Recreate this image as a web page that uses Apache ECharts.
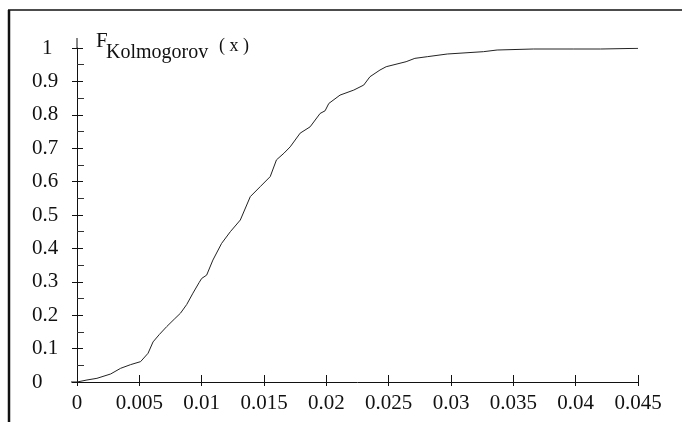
<!DOCTYPE html>
<html><head><meta charset="utf-8">
<script src="https://cdn.jsdelivr.net/npm/echarts@6/dist/echarts.min.js"></script>
<style>html,body{margin:0;padding:0;background:#fff}#c{width:682px;height:422px}</style>
</head><body><div id="c"></div>
<script>
const xValues = [0, 0.0008, 0.0016, 0.0027, 0.0035, 0.0043, 0.0051, 0.0057, 0.0061, 0.0066, 0.0072, 0.0078, 0.0083, 0.0088, 0.0093, 0.0098, 0.0100, 0.0104, 0.0109, 0.0116, 0.0123, 0.0131, 0.0139, 0.0147, 0.0155, 0.0160, 0.0166, 0.0171, 0.0179, 0.0187, 0.0195, 0.0199, 0.0202, 0.0211, 0.0222, 0.0230, 0.0235, 0.0243, 0.0248, 0.0264, 0.0271, 0.0281, 0.0297, 0.0326, 0.0337, 0.0366, 0.0398, 0.0420, 0.0450];
const fValues = [0, 0.006, 0.011, 0.024, 0.041, 0.052, 0.061, 0.086, 0.12, 0.142, 0.166, 0.188, 0.206, 0.232, 0.266, 0.298, 0.31, 0.32, 0.365, 0.415, 0.45, 0.485, 0.555, 0.585, 0.615, 0.665, 0.685, 0.704, 0.745, 0.764, 0.804, 0.812, 0.834, 0.859, 0.874, 0.889, 0.914, 0.934, 0.944, 0.959, 0.969, 0.974, 0.982, 0.989, 0.994, 0.997, 0.997, 0.997, 0.999];
const xTicks = [0, 0.005, 0.01, 0.015, 0.02, 0.025, 0.03, 0.035, 0.04, 0.045];
const yTicks = [0, 0.1, 0.2, 0.3, 0.4, 0.5, 0.6, 0.7, 0.8, 0.9, 1];
const titleMain = 'F', titleSub = 'Kolmogorov', titleArg = '( x )';

const FONT = '"Liberation Serif","Times New Roman",serif';
const chart = echarts.init(document.getElementById('c'), null, {renderer: 'canvas'});
const lbl = {fontFamily: FONT, fontSize: 21, color: '#111'};
const fmt = v => String(+v.toFixed(3));
chart.setOption({
  animation: false,
  backgroundColor: '#fff',
  grid: {left: 77, right: 44, top: 48, bottom: 40},
  xAxis: [{
    type: 'value', min: xTicks[0], max: xTicks[xTicks.length-1], interval: 0.005,
    axisLine: {lineStyle: {color: '#111', width: 1}},
    axisTick: {show: true, inside: true, length: 7, lineStyle: {color: '#111'}},
    axisLabel: Object.assign({margin: 11, formatter: fmt}, lbl),
    splitLine: {show: false}
  }, {
    type: 'value', position: 'bottom', min: xTicks[0], max: xTicks[xTicks.length-1], interval: 0.005,
    axisLine: {show: false},
    axisTick: {show: true, inside: false, length: 4, lineStyle: {color: '#111'}},
    axisLabel: {show: false}, splitLine: {show: false}
  }],
  yAxis: [{
    type: 'value', min: yTicks[0], max: yTicks[yTicks.length-1], interval: 0.1,
    axisLine: {show: true, lineStyle: {color: '#111', width: 1}},
    axisTick: {show: true, inside: false, length: 5, lineStyle: {color: '#111'}},
    axisLabel: Object.assign({margin: 45, align: 'left',
      formatter: v => v === 1 ? '{one|1}' : fmt(v),
      rich: {one: {fontFamily: FONT, fontSize: 21, color: '#111', padding: [0, 0, 0, 10]}}}, lbl),
    splitLine: {show: false}
  }, {
    type: 'value', position: 'left', min: yTicks[0], max: yTicks[yTicks.length-1], interval: 0.1,
    axisLine: {show: false},
    axisTick: {show: true, inside: true, length: 6, lineStyle: {color: '#111'}},
    minorTick: {show: true, splitNumber: 2, length: 7, lineStyle: {color: '#333'}},
    axisLabel: {show: false}, splitLine: {show: false}
  }],
  series: [{
    type: 'line', xAxisIndex: 0, yAxisIndex: 0,
    data: xValues.map((x, i) => [x, fValues[i]]),
    showSymbol: false, smooth: false,
    lineStyle: {color: '#222', width: 1}
  }]
});
const o = chart.convertToPixel({xAxisIndex: 0, yAxisIndex: 0}, [0, 0]);
const top1 = chart.convertToPixel({xAxisIndex: 0, yAxisIndex: 0}, [0, 1]);
chart.setOption({
  graphic: [
    {type: 'line', shape: {x1: 8, y1: 10, x2: 682, y2: 10}, style: {stroke: '#111', lineWidth: 1.5}},
    {type: 'line', shape: {x1: 9, y1: 10, x2: 9, y2: 422}, style: {stroke: '#111', lineWidth: 2.5}},
    {type: 'line', shape: {x1: top1[0], y1: top1[1] - 10, x2: top1[0], y2: top1[1]}, style: {stroke: '#111', lineWidth: 1}},
    {type: 'line', shape: {x1: o[0] - 6, y1: o[1], x2: o[0], y2: o[1]}, style: {stroke: '#111', lineWidth: 1}},
    {type: 'text', left: 96, top: 31, style: {text: titleMain, font: '21px ' + FONT, fill: '#111'}},
    {type: 'text', left: 106, top: 43, style: {text: titleSub, font: '20px ' + FONT, fill: '#111'}},
    {type: 'text', left: 219, top: 37, style: {text: titleArg, font: '18px ' + FONT, fill: '#111'}}
  ]
});
</script></body></html>
